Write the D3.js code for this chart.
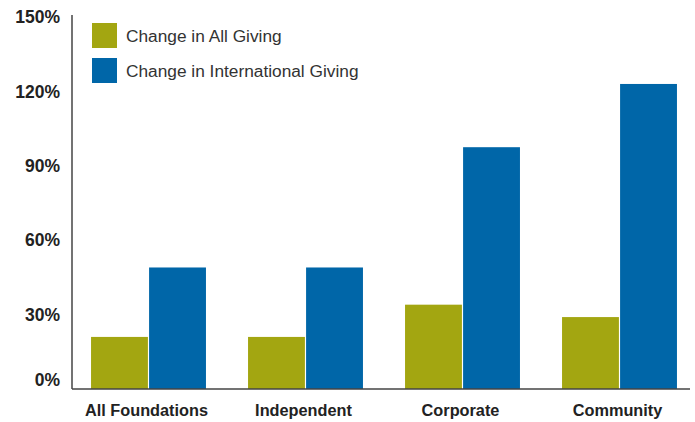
<!DOCTYPE html>
<html>
<head>
<meta charset="utf-8">
<script src="https://cdn.jsdelivr.net/npm/d3@7"></script>
<style>
  body { margin: 0; background: #fff; }
  text { font-family: "Liberation Sans", Arial, sans-serif; fill: #333; }
</style>
</head>
<body>
<div id="chart"></div>
<script>
// Data
const categories = ['All Foundations', 'Independent', 'Corporate', 'Community'];
const seriesNames = ['Change in All Giving', 'Change in International Giving'];
const allGiving = [21, 21, 34, 29];
const intlGiving = [49, 49, 97.5, 123];
const yTicks = [0, 30, 60, 90, 120, 150];
const colors = ['#a3a611', '#0066a8'];

const width = 695, height = 422;

const svg = d3.select('#chart')
  .append('svg')
    .attr('width', width)
    .attr('height', height);

// Scales
const x = d3.scaleBand()
  .domain(categories)
  .range([70, 698])
  .paddingInner(0.268)
  .paddingOuter(0.134);

const xSub = d3.scaleBand()
  .domain(seriesNames)
  .range([0, x.bandwidth()])
  .paddingInner(0.02);

const y = d3.scaleLinear()
  .domain([0, 150])
  .range([389, 17]);

// Bars
const rows = categories.map((c, i) => ({ cat: c, vals: [allGiving[i], intlGiving[i]] }));

svg.append('g')
  .selectAll('g')
  .data(rows)
  .join('g')
    .attr('transform', d => `translate(${x(d.cat)},0)`)
  .selectAll('rect')
  .data(d => d.vals.map((v, j) => ({ name: seriesNames[j], v, j })))
  .join('rect')
    .attr('x', d => xSub(d.name))
    .attr('y', d => y(d.v))
    .attr('width', xSub.bandwidth())
    .attr('height', d => y(0) - y(d.v))
    .attr('fill', d => colors[d.j]);

// Axes lines
svg.append('line')
  .attr('x1', 72).attr('x2', 72)
  .attr('y1', 15).attr('y2', y(0))
  .attr('stroke', '#444').attr('stroke-width', 1.5);

svg.append('line')
  .attr('x1', 72).attr('x2', 690)
  .attr('y1', y(0)).attr('y2', y(0))
  .attr('stroke', '#444').attr('stroke-width', 1.5);

// Y tick labels
svg.append('g')
  .selectAll('text')
  .data(yTicks)
  .join('text')
    .attr('x', 60)
    .attr('y', d => d === 0 ? y(d) - 9 : y(d))
    .attr('dy', '0.35em')
    .attr('text-anchor', 'end')
    .style('font-size', '17.5px')
    .style('font-weight', 'bold')
    .style('fill', '#222')
    .text(d => d + '%');

// X labels
svg.append('g')
  .selectAll('text')
  .data(categories)
  .join('text')
    .attr('x', d => x(d) + x.bandwidth() / 2 - 2)
    .attr('y', 410)
    .attr('dy', '0.35em')
    .attr('text-anchor', 'middle')
    .style('font-size', '16.3px')
    .style('font-weight', 'bold')
    .style('fill', '#222')
    .text(d => d);

// Legend
const legend = svg.append('g')
  .selectAll('g')
  .data(seriesNames)
  .join('g')
    .attr('transform', (d, i) => `translate(92,${23 + i * 35})`);

legend.append('rect')
  .attr('width', 25)
  .attr('height', 25)
  .attr('fill', (d, i) => colors[i]);

legend.append('text')
  .attr('x', 34)
  .attr('y', 13)
  .attr('dy', '0.35em')
  .style('font-size', '17.3px')
  .style('fill', '#333')
  .text(d => d);
</script>
</body>
</html>
